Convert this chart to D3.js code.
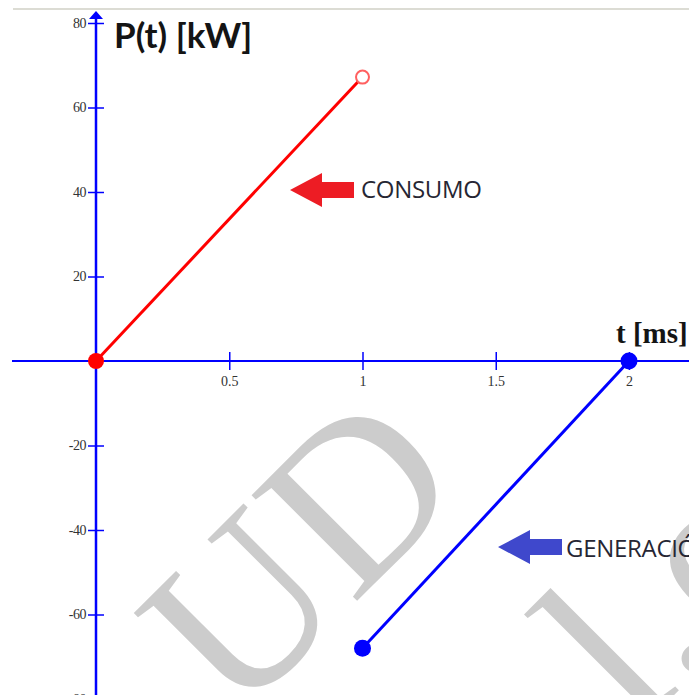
<!DOCTYPE html>
<html>
<head>
<meta charset="utf-8">
<script src="https://cdn.jsdelivr.net/npm/d3@7"></script>
<style>
  body { margin: 0; background: #fff; }
  svg { display: block; }
</style>
</head>
<body>
<div id="chart"></div>
<script>
// data
var consumo = [[0, 0], [1, 67.2]];      // red segment (t [ms], P [kW])
var generacion = [[1, -68], [2, 0]];    // blue segment (t [ms], P [kW])
var xTicks = [0.5, 1, 1.5, 2];
var xTickLabels = ["0.5", "1", "1.5", "2"];
var yTicks = [-80, -60, -40, -20, 20, 40, 60, 80];
var yTickLabels = ["-80", "-60", "-40", "-20", "20", "40", "60", "80"];

var width = 689, height = 695;

var svg = d3.select("#chart").append("svg")
    .attr("width", width)
    .attr("height", height);

var x = d3.scaleLinear().domain([0, 2]).range([96, 629]);
var y = d3.scaleLinear().domain([-80, 80]).range([699, 23]);

// screenshot border line at the top
svg.append("line")
    .attr("x1", 13).attr("x2", width)
    .attr("y1", 9).attr("y2", 9)
    .style("stroke", "#dcdcd4").style("stroke-width", 2);

// watermark
var wm = svg.append("g").style("fill", "#cccccc")
    .style("font-family", "'Liberation Serif', 'DejaVu Serif', serif");
wm.append("text")
    .attr("transform", "translate(236,722) rotate(-45)")
    .style("font-size", "228px")
    .text("UD");
wm.append("text")
    .attr("transform", "translate(636,733) rotate(-45)")
    .style("font-size", "235px")
    .text("l.es");

var blue = "#0000ff";

// horizontal axis
svg.append("line")
    .attr("x1", 12).attr("x2", width)
    .attr("y1", y(0)).attr("y2", y(0))
    .style("stroke", blue).style("stroke-width", 2);

var xAxis = d3.axisBottom(x)
    .tickValues(xTicks)
    .tickSize(0)
    .tickFormat(function(d, i) { return xTickLabels[i]; });

var gx = svg.append("g")
    .attr("transform", "translate(0," + y(0) + ")")
    .call(xAxis);
gx.select(".domain").remove();
gx.selectAll(".tick text")
    .attr("y", 25)
    .attr("dy", 0)
    .style("font-family", "'Liberation Serif', serif")
    .style("font-size", "14px")
    .style("fill", "#333");
gx.selectAll(".tick").append("line")
    .attr("y1", -9).attr("y2", 9)
    .style("stroke", blue).style("stroke-width", 1.5);

// vertical axis
svg.append("line")
    .attr("x1", x(0)).attr("x2", x(0))
    .attr("y1", 14).attr("y2", height)
    .style("stroke", blue).style("stroke-width", 2.5);
svg.append("path")
    .attr("d", "M" + x(0) + ",11 L" + (x(0) - 7) + ",19 L" + (x(0) + 7) + ",19 Z")
    .style("fill", blue);

var yAxis = d3.axisLeft(y)
    .tickValues(yTicks)
    .tickSize(0)
    .tickFormat(function(d, i) { return yTickLabels[i]; });

var gy = svg.append("g")
    .attr("transform", "translate(" + x(0) + ",0)")
    .call(yAxis);
gy.select(".domain").remove();
gy.selectAll(".tick text")
    .attr("x", -10)
    .style("font-family", "'Liberation Serif', serif")
    .style("font-size", "14px")
    .style("letter-spacing", "-0.5px")
    .style("fill", "#333");
gy.selectAll(".tick").append("line")
    .attr("x1", -8).attr("x2", 8)
    .style("stroke", blue).style("stroke-width", 1.5);

// axis titles
svg.append("text")
    .attr("x", 114).attr("y", 48)
    .style("font-family", "Lato, 'Open Sans', sans-serif")
    .style("font-weight", "bold")
    .style("font-size", "35px")
    .style("fill", "#141414")
    .text("P(t) [kW]");

svg.append("text")
    .attr("x", 616).attr("y", 343)
    .style("font-family", "'Liberation Serif', serif")
    .style("font-weight", "bold")
    .style("font-size", "29px")
    .style("fill", "#141414")
    .text("t [ms]");

var line = d3.line()
    .x(function(d) { return x(d[0]); })
    .y(function(d) { return y(d[1]); });

// consumo (red)
svg.append("path")
    .datum(consumo)
    .attr("d", line)
    .style("fill", "none")
    .style("stroke", "#ff0000")
    .style("stroke-width", 3);
svg.append("circle")
    .attr("cx", x(consumo[0][0])).attr("cy", y(consumo[0][1]))
    .attr("r", 8)
    .style("fill", "#ff0000");
svg.append("circle")
    .attr("cx", x(consumo[1][0])).attr("cy", y(consumo[1][1]))
    .attr("r", 6.5)
    .style("fill", "#fff")
    .style("stroke", "#ff6060")
    .style("stroke-width", 2);

// generacion (blue)
svg.append("path")
    .datum(generacion)
    .attr("d", line)
    .style("fill", "none")
    .style("stroke", blue)
    .style("stroke-width", 3);
svg.selectAll("circle.gen")
    .data(generacion)
    .enter()
    .append("circle")
    .attr("class", "gen")
    .attr("cx", function(d) { return x(d[0]); })
    .attr("cy", function(d) { return y(d[1]); })
    .attr("r", 8.5)
    .style("fill", blue);

// labels with block arrows
function blockArrow(tipX, tipY, color) {
    svg.append("path")
        .attr("d", "M" + tipX + "," + tipY +
            " L" + (tipX + 32) + "," + (tipY - 17) +
            " L" + (tipX + 32) + "," + (tipY - 8) +
            " L" + (tipX + 64) + "," + (tipY - 8) +
            " L" + (tipX + 64) + "," + (tipY + 8) +
            " L" + (tipX + 32) + "," + (tipY + 8) +
            " L" + (tipX + 32) + "," + (tipY + 17) + " Z")
        .style("fill", color);
}

blockArrow(290, 190, "#ed1c24");
svg.append("text")
    .attr("x", 361).attr("y", 198)
    .style("font-family", "'Open Sans', sans-serif")
    .style("font-size", "24px")
    .style("letter-spacing", "-0.3px")
    .style("fill", "#262633")
    .text("CONSUMO");

blockArrow(498, 547, "#3f48cc");
svg.append("text")
    .attr("x", 566).attr("y", 557)
    .style("font-family", "'Open Sans', sans-serif")
    .style("font-size", "24px")
    .style("letter-spacing", "-0.3px")
    .style("fill", "#262633")
    .text("GENERACIÓN");
</script>
</body>
</html>
